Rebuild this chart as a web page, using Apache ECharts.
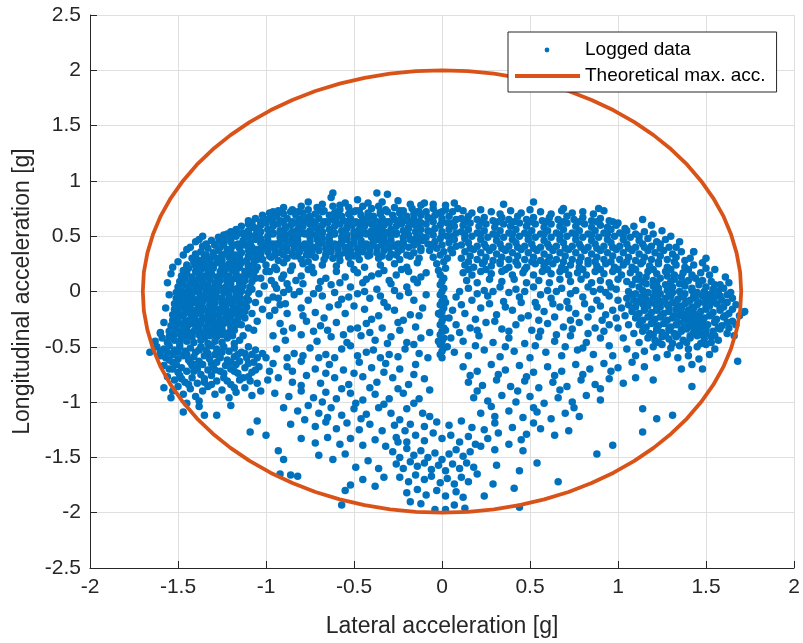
<!DOCTYPE html>
<html>
<head>
<meta charset="utf-8">
<script src="https://cdn.jsdelivr.net/npm/echarts@6/dist/echarts.min.js"></script>
<style>html,body{margin:0;padding:0;background:#fff}#c{width:803px;height:643px}</style>
</head>
<body>
<div id="c"></div>
<script>
// ---- data (g units) ----
const leftCluster = [
[-1.31,0.46],[-1.27,0.44],[-1.24,0.47],[-1.2,0.45],[-1.16,0.43],[-1.13,0.46],[-1.09,0.44],[-1.06,0.47],
[-1.36,0.41],[-1.33,0.39],[-1.29,0.42],[-1.26,0.4],[-1.22,0.38],[-1.19,0.41],[-1.15,0.39],[-1.12,0.42],[-1.08,0.4],[-1.05,0.38],
[-1.4,0.34],[-1.37,0.36],[-1.34,0.33],[-1.3,0.35],[-1.27,0.37],[-1.23,0.34],[-1.2,0.36],[-1.17,0.33],[-1.14,0.35],[-1.1,0.37],[-1.07,0.34],
[-1.42,0.3],[-1.38,0.28],[-1.35,0.31],[-1.32,0.29],[-1.28,0.3],[-1.25,0.28],[-1.21,0.31],[-1.18,0.29],[-1.15,0.3],[-1.11,0.28],[-1.08,0.31],[-1.05,0.29],
[-1.45,0.24],[-1.41,0.26],[-1.38,0.23],[-1.35,0.25],[-1.31,0.24],[-1.28,0.26],[-1.24,0.23],[-1.21,0.25],[-1.17,0.24],[-1.14,0.26],[-1.1,0.23],[-1.07,0.25],
[-1.47,0.19],[-1.44,0.21],[-1.4,0.18],[-1.37,0.2],[-1.33,0.19],[-1.3,0.21],[-1.26,0.18],[-1.23,0.2],[-1.19,0.19],[-1.16,0.21],[-1.12,0.18],[-1.09,0.2],[-1.06,0.19],
[-1.48,0.14],[-1.45,0.16],[-1.42,0.13],[-1.38,0.15],[-1.35,0.14],[-1.31,0.16],[-1.28,0.13],[-1.24,0.15],[-1.21,0.14],[-1.17,0.16],[-1.14,0.13],[-1.1,0.15],[-1.07,0.14],
[-1.49,0.09],[-1.46,0.11],[-1.43,0.08],[-1.39,0.1],[-1.36,0.09],[-1.32,0.11],[-1.29,0.08],[-1.26,0.1],[-1.22,0.09],[-1.19,0.11],[-1.15,0.08],[-1.12,0.1],[-1.08,0.09],
[-1.5,0.04],[-1.47,0.06],[-1.44,0.03],[-1.4,0.05],[-1.37,0.04],[-1.33,0.06],[-1.3,0.03],[-1.27,0.05],[-1.23,0.04],[-1.2,0.06],[-1.16,0.03],[-1.13,0.05],[-1.09,0.04],
[-1.51,-0.01],[-1.48,0.01],[-1.45,-0.02],[-1.41,0],[-1.38,-0.01],[-1.34,0.01],[-1.31,-0.02],[-1.28,0],[-1.24,-0.01],[-1.21,0.01],[-1.17,-0.02],[-1.14,0],[-1.1,-0.01],
[-1.51,-0.06],[-1.48,-0.04],[-1.45,-0.07],[-1.42,-0.05],[-1.38,-0.06],[-1.35,-0.04],[-1.32,-0.07],[-1.28,-0.05],[-1.25,-0.06],[-1.21,-0.04],[-1.18,-0.07],[-1.15,-0.05],[-1.11,-0.06],
[-1.52,-0.11],[-1.49,-0.09],[-1.46,-0.12],[-1.42,-0.1],[-1.39,-0.11],[-1.36,-0.09],[-1.32,-0.12],[-1.29,-0.1],[-1.25,-0.11],[-1.22,-0.09],[-1.19,-0.12],[-1.15,-0.1],[-1.12,-0.11],
[-1.52,-0.16],[-1.49,-0.14],[-1.46,-0.17],[-1.43,-0.15],[-1.39,-0.16],[-1.36,-0.14],[-1.33,-0.17],[-1.29,-0.15],[-1.26,-0.16],[-1.23,-0.14],[-1.19,-0.17],[-1.16,-0.15],[-1.13,-0.16],
[-1.53,-0.21],[-1.5,-0.19],[-1.47,-0.22],[-1.43,-0.2],[-1.4,-0.21],[-1.37,-0.19],[-1.33,-0.22],[-1.3,-0.2],[-1.27,-0.21],[-1.23,-0.19],[-1.2,-0.22],[-1.17,-0.2],[-1.14,-0.21],
[-1.53,-0.26],[-1.5,-0.24],[-1.46,-0.27],[-1.43,-0.25],[-1.4,-0.26],[-1.36,-0.24],[-1.33,-0.27],[-1.3,-0.25],[-1.26,-0.26],[-1.23,-0.24],[-1.2,-0.27],[-1.16,-0.25],
[-1.54,-0.31],[-1.5,-0.29],[-1.47,-0.32],[-1.44,-0.3],[-1.4,-0.31],[-1.37,-0.29],[-1.34,-0.32],[-1.3,-0.3],[-1.27,-0.31],[-1.24,-0.29],[-1.2,-0.32],[-1.17,-0.3],
[-1.55,-0.36],[-1.51,-0.34],[-1.48,-0.37],[-1.45,-0.35],[-1.41,-0.36],[-1.38,-0.34],[-1.35,-0.37],[-1.31,-0.35],[-1.28,-0.36],[-1.25,-0.34],[-1.21,-0.37],[-1.18,-0.35],
[-1.55,-0.41],[-1.52,-0.39],[-1.48,-0.42],[-1.45,-0.4],[-1.42,-0.41],[-1.38,-0.39],[-1.35,-0.42],[-1.32,-0.4],[-1.28,-0.41],[-1.25,-0.39],[-1.22,-0.42],
[-1.56,-0.46],[-1.52,-0.44],[-1.49,-0.47],[-1.45,-0.45],[-1.41,-0.46],[-1.37,-0.44],[-1.33,-0.47],[-1.29,-0.45],[-1.25,-0.46],
[-1.56,0.08],[-1.55,-0.03],[-1.57,-0.15],[-1.58,-0.28],[-1.54,0.16],[-1.5,0.27],[-1.47,0.33],[-1.43,0.4],[-1.4,0.45],[-1.36,0.5],[-1.6,-0.38],[-1.59,-0.42],[-1.53,0.22],[-1.45,0.38],[-1.38,0.47],
[-1.03,0.12],[-1.01,0.05],[-1.04,-0.02],[-0.99,-0.08],[-1.06,-0.1],[-1.02,-0.16],[-1.08,-0.2],[-1.05,-0.27],[-1.1,-0.33],[-1.13,-0.4],[-1.0,0.18],[-0.97,0.1],[-0.94,0.03],[-0.96,-0.05],[-0.92,-0.12],[-0.98,-0.22],[-0.9,0.15],[-0.88,0.07],[-1.07,-0.35],[-1.15,-0.44],[-1.18,-0.47],[-1.09,0.02],[-1.11,-0.14],[-1.12,-0.24],[-1.14,-0.3],
[-1.34,0.43],[-1.29,0.42],[-1.24,0.43],[-1.19,0.42],[-1.14,0.43],[-1.09,0.42],
[-1.4,0.32],[-1.35,0.33],[-1.3,0.32],[-1.25,0.33],[-1.2,0.32],[-1.15,0.33],[-1.1,0.32],[-1.05,0.33],
[-1.45,0.22],[-1.4,0.23],[-1.35,0.22],[-1.3,0.23],[-1.25,0.22],[-1.2,0.23],[-1.15,0.22],[-1.1,0.23],[-1.05,0.22],
[-1.47,0.12],[-1.42,0.11],[-1.37,0.12],[-1.32,0.13],[-1.27,0.12],[-1.22,0.11],[-1.17,0.12],[-1.12,0.13],[-1.06,0.12],
[-1.49,0.02],[-1.44,0.01],[-1.39,0.02],[-1.34,0.03],[-1.29,0.02],[-1.24,0.01],[-1.19,0.02],[-1.14,0.03],[-1.08,0.02],
[-1.5,-0.08],[-1.45,-0.09],[-1.4,-0.08],[-1.35,-0.07],[-1.3,-0.08],[-1.25,-0.09],[-1.2,-0.08],[-1.15,-0.07],[-1.1,-0.08],
[-1.51,-0.18],[-1.46,-0.19],[-1.41,-0.18],[-1.36,-0.17],[-1.31,-0.18],[-1.26,-0.19],[-1.21,-0.18],[-1.16,-0.17],[-1.12,-0.18],
[-1.52,-0.28],[-1.47,-0.29],[-1.42,-0.28],[-1.37,-0.27],[-1.32,-0.28],[-1.27,-0.29],[-1.22,-0.28],[-1.17,-0.27],
[-1.53,-0.38],[-1.48,-0.39],[-1.43,-0.38],[-1.38,-0.37],[-1.33,-0.38],[-1.28,-0.39],[-1.23,-0.38],[-1.19,-0.4]
];
const leftLobe = [
[-1.62,-0.5],[-1.58,-0.52],[-1.55,-0.49],[-1.52,-0.53],[-1.49,-0.5],[-1.46,-0.54],[-1.43,-0.51],[-1.4,-0.55],[-1.37,-0.5],[-1.34,-0.53],[-1.31,-0.49],[-1.28,-0.52],[-1.24,-0.5],[-1.21,-0.54],[-1.18,-0.51],[-1.14,-0.55],[-1.1,-0.5],[-1.06,-0.53],[-1.02,-0.56],
[-1.6,-0.58],[-1.57,-0.6],[-1.53,-0.57],[-1.5,-0.61],[-1.47,-0.58],[-1.44,-0.62],[-1.41,-0.59],[-1.38,-0.63],[-1.35,-0.58],[-1.32,-0.61],[-1.29,-0.57],[-1.26,-0.6],[-1.22,-0.62],[-1.18,-0.59],[-1.15,-0.63],[-1.11,-0.6],[-1.07,-0.64],[-1.0,-0.6],
[-1.58,-0.67],[-1.55,-0.7],[-1.51,-0.66],[-1.48,-0.69],[-1.45,-0.72],[-1.42,-0.67],[-1.39,-0.7],[-1.36,-0.66],[-1.33,-0.71],[-1.3,-0.68],[-1.26,-0.72],[-1.23,-0.67],[-1.2,-0.7],[-1.16,-0.74],[-1.12,-0.69],[-1.08,-0.73],[-1.04,-0.68],[-0.98,-0.72],
[-1.56,-0.77],[-1.52,-0.8],[-1.49,-0.76],[-1.46,-0.82],[-1.42,-0.78],[-1.39,-0.83],[-1.35,-0.79],[-1.31,-0.76],[-1.28,-0.81],[-1.24,-0.78],[-1.2,-0.84],[-1.15,-0.8],[-1.1,-0.77],[-1.05,-0.83],[-0.99,-0.8],
[-1.58,-0.87],[-1.53,-0.9],[-1.5,-0.86],[-1.47,-0.93],[-1.43,-0.88],[-1.4,-0.95],[-1.36,-0.9],[-1.33,-0.86],[-1.29,-0.93],[-1.25,-0.89],[-1.21,-0.96],[-1.17,-0.91],[-1.12,-0.87],[-1.08,-0.94],[-1.54,-0.96],[-1.38,-0.99],[-1.45,-1.01],
[-1.47,-1.09],[-1.35,-1.12],[-1.28,-1.12],[-1.38,-1.04],[-1.2,-1.03],[-1.66,-0.55],[-1.6,-0.37],[-1.63,-0.45],
[-1.56,-0.55],[-1.45,-0.57],[-1.33,-0.56],[-1.25,-0.55],[-1.12,-0.56],[-1.53,-0.64],[-1.4,-0.66],[-1.28,-0.64],[-1.17,-0.66],[-1.05,-0.6],[-1.5,-0.73],[-1.37,-0.75],[-1.24,-0.74],[-1.13,-0.78],[-1.44,-0.84],[-1.31,-0.84],[-1.18,-0.87],[-1.03,-0.9],
[-1.6,-0.54],[-1.5,-0.55],[-1.38,-0.53],[-1.27,-0.58],[-1.16,-0.57],[-1.08,-0.57],[-1.55,-0.62],[-1.43,-0.64],[-1.31,-0.65],[-1.2,-0.64],[-1.1,-0.65],[-1.53,-0.7],[-1.41,-0.72],[-1.29,-0.71],[-1.18,-0.72],[-1.06,-0.71],[-1.48,-0.79],[-1.35,-0.82],[-1.22,-0.81],[-1.09,-0.81]
];
const upperBandLeft = [
[-0.76,0.81],[-0.63,0.85],[-0.62,0.89],[-0.55,0.8],[-0.48,0.83],[-0.37,0.89],[-0.31,0.88],[-0.42,0.8],[-0.25,0.82],[-0.18,0.79],[-0.68,0.79],[-0.58,0.78],[-0.34,0.81],[-0.12,0.78],
[-0.96,0.72],[-0.9,0.76],[-0.85,0.74],[-0.8,0.77],[-0.76,0.74],[-0.71,0.76],[-0.67,0.73],[-0.62,0.77],[-0.58,0.74],[-0.53,0.76],[-0.49,0.73],[-0.45,0.77],[-0.4,0.75],[-0.36,0.77],[-0.32,0.74],[-0.27,0.76],[-0.22,0.73],[-0.17,0.75],[-0.13,0.72],
[-1.02,0.69],[-0.98,0.71],[-0.94,0.68],[-0.9,0.7],[-0.86,0.72],[-0.83,0.69],[-0.79,0.71],[-0.75,0.68],[-0.72,0.7],[-0.68,0.72],[-0.64,0.69],[-0.61,0.71],[-0.57,0.68],[-0.53,0.7],[-0.5,0.72],[-0.46,0.69],[-0.42,0.71],[-0.39,0.68],[-0.35,0.7],[-0.31,0.72],[-0.28,0.69],[-0.24,0.71],[-0.2,0.68],[-0.16,0.7],[-0.12,0.69],
[-1.1,0.64],[-1.06,0.66],[-1.03,0.63],[-0.99,0.65],[-0.96,0.67],[-0.92,0.64],[-0.88,0.66],[-0.85,0.63],[-0.81,0.65],[-0.78,0.67],[-0.74,0.64],[-0.7,0.66],[-0.67,0.63],[-0.63,0.65],[-0.6,0.67],[-0.56,0.64],[-0.52,0.66],[-0.49,0.63],[-0.45,0.65],[-0.42,0.67],[-0.38,0.64],[-0.34,0.66],[-0.31,0.63],[-0.27,0.65],[-0.23,0.67],[-0.2,0.64],[-0.16,0.66],[-0.13,0.63],
[-1.14,0.59],[-1.1,0.61],[-1.07,0.58],[-1.03,0.6],[-1.0,0.62],[-0.96,0.59],[-0.93,0.61],[-0.89,0.58],[-0.86,0.6],[-0.82,0.62],[-0.79,0.59],[-0.75,0.61],[-0.72,0.58],[-0.68,0.6],[-0.65,0.62],[-0.61,0.59],[-0.58,0.61],[-0.54,0.58],[-0.51,0.6],[-0.47,0.62],[-0.44,0.59],[-0.4,0.61],[-0.37,0.58],[-0.33,0.6],[-0.3,0.62],[-0.26,0.59],[-0.23,0.61],[-0.19,0.58],[-0.15,0.6],[-0.12,0.62],
[-1.2,0.54],[-1.17,0.56],[-1.13,0.53],[-1.1,0.55],[-1.06,0.57],[-1.03,0.54],[-0.99,0.56],[-0.96,0.53],[-0.92,0.55],[-0.89,0.57],[-0.85,0.54],[-0.82,0.56],[-0.78,0.53],[-0.75,0.55],[-0.71,0.57],[-0.68,0.54],[-0.64,0.56],[-0.61,0.53],[-0.57,0.55],[-0.54,0.57],[-0.5,0.54],[-0.47,0.56],[-0.43,0.53],[-0.4,0.55],[-0.36,0.57],[-0.33,0.54],[-0.29,0.56],[-0.26,0.53],[-0.22,0.55],[-0.19,0.57],[-0.15,0.54],[-0.12,0.56],
[-1.27,0.49],[-1.24,0.51],[-1.2,0.48],[-1.17,0.5],[-1.13,0.52],[-1.1,0.49],[-1.06,0.51],[-1.03,0.48],[-0.99,0.5],[-0.96,0.52],[-0.92,0.49],[-0.89,0.51],[-0.85,0.48],[-0.82,0.5],[-0.78,0.52],[-0.75,0.49],[-0.71,0.51],[-0.68,0.48],[-0.64,0.5],[-0.61,0.52],[-0.57,0.49],[-0.54,0.51],[-0.5,0.48],[-0.47,0.5],[-0.43,0.52],[-0.4,0.49],[-0.36,0.51],[-0.33,0.48],[-0.29,0.5],[-0.26,0.52],[-0.22,0.49],[-0.19,0.51],[-0.15,0.48],[-0.12,0.5],
[-1.03,0.44],[-0.99,0.46],[-0.96,0.43],[-0.92,0.45],[-0.89,0.47],[-0.85,0.44],[-0.82,0.46],[-0.78,0.43],[-0.75,0.45],[-0.71,0.47],[-0.68,0.44],[-0.64,0.46],[-0.61,0.43],[-0.57,0.45],[-0.54,0.47],[-0.5,0.44],[-0.46,0.46],[-0.43,0.43],[-0.39,0.45],[-0.36,0.47],[-0.32,0.44],[-0.29,0.46],[-0.25,0.43],[-0.22,0.45],[-0.18,0.47],[-0.14,0.44],[-0.11,0.46],
[-1.02,0.39],[-0.98,0.41],[-0.95,0.38],[-0.91,0.4],[-0.88,0.42],[-0.84,0.39],[-0.8,0.41],[-0.77,0.38],[-0.73,0.4],[-0.7,0.42],[-0.66,0.39],[-0.62,0.41],[-0.59,0.38],[-0.55,0.4],[-0.52,0.42],[-0.48,0.39],[-0.44,0.41],[-0.41,0.38],[-0.37,0.4],[-0.34,0.42],[-0.3,0.39],[-0.27,0.41],[-0.23,0.38],[-0.19,0.4],[-0.16,0.42],[-0.12,0.39],
[-1.03,0.34],[-0.99,0.36],[-0.95,0.33],[-0.92,0.35],[-0.88,0.37],[-0.85,0.34],[-0.81,0.36],[-0.77,0.33],[-0.74,0.35],[-0.7,0.37],[-0.66,0.34],[-0.63,0.36],[-0.59,0.33],[-0.55,0.35],[-0.52,0.37],[-0.48,0.34],[-0.45,0.36],[-0.41,0.33],[-0.37,0.35],[-0.33,0.37],[-0.29,0.34],[-0.25,0.36],[-0.2,0.33],[-0.16,0.35],[-0.12,0.37],
[-1.02,0.29],[-0.97,0.31],[-0.93,0.28],[-0.88,0.3],[-0.84,0.32],[-0.8,0.29],[-0.76,0.27],[-0.72,0.31],[-0.67,0.29],[-0.62,0.3],[-0.58,0.28],[-0.53,0.31],[-0.47,0.29],[-0.42,0.32],[-0.36,0.3],[-0.3,0.31],[-0.24,0.29],[-0.18,0.32],[-0.13,0.3],
[-1.0,0.24],[-0.95,0.22],[-0.9,0.26],[-0.85,0.23],[-0.79,0.25],[-0.74,0.22],[-0.68,0.24],[-0.6,0.23],[-0.52,0.25],[-0.44,0.22],[-0.35,0.24],[-0.27,0.25],[-0.2,0.22],[-0.14,0.26],
[-0.93,0.73],[-0.82,0.72],[-0.7,0.73],[-0.59,0.72],[-0.47,0.73],[-0.35,0.72],[-0.24,0.73],[-0.14,0.72],
[-1.08,0.62],[-1.02,0.63],[-0.96,0.62],[-0.9,0.63],[-0.84,0.62],[-0.78,0.63],[-0.72,0.62],[-0.66,0.63],[-0.6,0.62],[-0.54,0.63],[-0.48,0.62],[-0.42,0.63],[-0.36,0.62],[-0.3,0.63],[-0.24,0.62],[-0.18,0.63],[-0.12,0.62],
[-1.22,0.52],[-1.16,0.53],[-1.1,0.52],[-1.04,0.53],[-0.98,0.52],[-0.92,0.53],[-0.86,0.52],[-0.8,0.53],[-0.74,0.52],[-0.68,0.53],[-0.62,0.52],[-0.56,0.53],[-0.5,0.52],[-0.44,0.53],[-0.38,0.52],[-0.32,0.53],[-0.26,0.52],[-0.2,0.53],[-0.14,0.52],
[-1.0,0.42],[-0.94,0.43],[-0.88,0.42],[-0.82,0.43],[-0.76,0.42],[-0.7,0.43],[-0.64,0.42],[-0.58,0.43],[-0.52,0.42],[-0.46,0.43],[-0.4,0.42],[-0.34,0.43],[-0.28,0.42],[-0.22,0.43],[-0.16,0.42],
[-0.98,0.32],[-0.9,0.33],[-0.82,0.32],[-0.74,0.33],[-0.66,0.32],[-0.58,0.33],[-0.5,0.32],[-0.42,0.33],[-0.34,0.32],[-0.26,0.33],[-0.18,0.32]
];
const innerLeft = [
[-0.98,0.18],[-0.91,0.12],[-0.86,0.19],[-0.8,0.14],[-0.73,0.17],[-0.66,0.12],[-0.6,0.18],[-0.55,0.13],[-0.48,0.17],[-0.4,0.14],[-0.33,0.19],[-0.26,0.15],[-0.19,0.18],[-0.12,0.13],
[-0.95,0.06],[-0.87,0.02],[-0.79,0.07],[-0.7,0.03],[-0.63,0.06],[-0.52,0.04],[-0.45,0.08],[-0.37,0.02],[-0.29,0.07],[-0.2,0.04],[-0.14,0.08],
[-0.93,-0.06],[-0.84,-0.03],[-0.76,-0.08],[-0.68,-0.04],[-0.57,-0.07],[-0.48,-0.02],[-0.41,-0.06],[-0.33,-0.1],[-0.24,-0.04],[-0.16,-0.08],
[-0.95,-0.17],[-0.88,-0.2],[-0.8,-0.15],[-0.72,-0.19],[-0.64,-0.14],[-0.55,-0.2],[-0.44,-0.16],[-0.36,-0.22],[-0.27,-0.17],[-0.18,-0.21],[-0.11,-0.15],
[-0.92,-0.29],[-0.85,-0.33],[-0.77,-0.27],[-0.69,-0.31],[-0.6,-0.28],[-0.52,-0.34],[-0.43,-0.29],[-0.34,-0.33],[-0.25,-0.28],[-0.15,-0.32],
[-0.96,-0.4],[-0.89,-0.44],[-0.8,-0.39],[-0.71,-0.45],[-0.63,-0.41],[-0.54,-0.46],[-0.46,-0.4],[-0.38,-0.44],[-0.29,-0.41],[-0.2,-0.46],[-0.12,-0.42],
[-0.94,-0.52],[-0.84,-0.56],[-0.75,-0.51],[-0.66,-0.57],[-0.57,-0.52],[-0.48,-0.58],[-0.39,-0.53],[-0.3,-0.57],[-0.21,-0.52],[-0.13,-0.56],
[-0.94,0.2],[-0.83,0.1],[-0.76,0.2],[-0.69,0.09],[-0.58,0.08],[-0.5,0.2],[-0.43,0.11],[-0.36,0.16],[-0.3,0.1],[-0.23,0.2],[-0.16,0.11],[-0.09,0.17],
[-0.9,-0.01],[-0.81,0.0],[-0.73,-0.02],[-0.61,-0.01],[-0.53,-0.05],[-0.44,0.0],[-0.35,-0.04],[-0.27,0.01],[-0.19,-0.01],[-0.09,-0.03],
[-0.89,-0.11],[-0.79,-0.22],[-0.67,-0.24],[-0.59,-0.12],[-0.5,-0.13],[-0.4,-0.25],[-0.31,-0.14],[-0.22,-0.26],[-0.13,-0.22],
[-0.9,-0.36],[-0.73,-0.36],[-0.65,-0.35],[-0.56,-0.39],[-0.48,-0.33],[-0.41,-0.37],[-0.31,-0.47],[-0.24,-0.35],[-0.07,-0.37],
[-0.88,-0.6],[-0.79,-0.58],[-0.7,-0.6],[-0.61,-0.6],[-0.52,-0.49],[-0.43,-0.55],[-0.35,-0.6],[-0.25,-0.59],[-0.16,-0.48],[-0.08,-0.6]
];
const centreSpine = [
[-0.09,0.72],[-0.05,0.75],[-0.02,0.71],[0.02,0.74],[0.06,0.72],[0.09,0.75],[-0.08,0.67],[-0.04,0.69],[0.0,0.66],[0.04,0.68],[0.08,0.65],[-0.09,0.61],[-0.05,0.63],[-0.01,0.6],[0.03,0.62],[0.07,0.59],[-0.08,0.55],[-0.04,0.57],[0.0,0.54],[0.04,0.56],[0.08,0.53],[-0.09,0.49],[-0.05,0.51],[-0.01,0.48],[0.03,0.5],[0.07,0.47],[-0.08,0.43],[-0.04,0.45],[0.0,0.42],[0.04,0.44],[0.08,0.41],[-0.07,0.37],[-0.03,0.39],[0.01,0.36],[0.05,0.38],[-0.05,0.31],[-0.01,0.33],[0.03,0.3],[-0.03,0.25],[0.01,0.27],[0.02,0.21],[-0.02,0.19],
[-0.01,0.15],[0.01,0.12],[0.0,0.09],[-0.01,0.06],[0.01,0.03],[0.0,0.0],[-0.01,-0.03],[0.01,-0.06],[0.0,-0.09],[-0.01,-0.12],[0.01,-0.15],[0.0,-0.18],[-0.01,-0.21],[0.01,-0.24],[0.0,-0.27],[-0.01,-0.3],[0.01,-0.33],[0.0,-0.36],[-0.01,-0.39],[0.01,-0.42],[0.0,-0.45],[-0.01,-0.48],[0.01,-0.51],[0.0,-0.54],[-0.01,-0.57],[0.0,-0.6],[0.02,-0.1],[-0.02,-0.2],[0.02,-0.35],[-0.02,-0.45],
[-0.05,0.79],[0.02,0.78],[0.07,0.8],[-0.1,0.8],
[-0.06,0.66],[0.06,0.62],[-0.06,0.54],[0.06,0.5],[-0.06,0.42],[0.06,0.35],[0.0,0.72],[0.0,0.63],[0.0,0.51]
];
const upperBandRight = [
[0.12,0.73],[0.17,0.71],[0.22,0.74],[0.28,0.72],[0.33,0.7],[0.39,0.73],[0.45,0.71],[0.5,0.74],[0.56,0.72],[0.62,0.7],[0.68,0.73],[0.74,0.71],[0.8,0.72],[0.86,0.7],[0.92,0.73],[0.35,0.79],[0.52,0.81],[0.69,0.75],[0.89,0.75],
[0.11,0.66],[0.15,0.68],[0.2,0.65],[0.24,0.67],[0.29,0.64],[0.34,0.67],[0.38,0.65],[0.43,0.68],[0.48,0.65],[0.52,0.67],[0.57,0.64],[0.61,0.67],[0.66,0.65],[0.71,0.68],[0.75,0.65],[0.8,0.67],[0.85,0.64],[0.9,0.66],[0.95,0.64],[1.0,0.62],
[0.12,0.6],[0.16,0.62],[0.21,0.59],[0.25,0.61],[0.3,0.58],[0.35,0.61],[0.39,0.59],[0.44,0.62],[0.48,0.59],[0.53,0.61],[0.58,0.58],[0.62,0.61],[0.67,0.59],[0.71,0.62],[0.76,0.59],[0.81,0.61],[0.85,0.58],[0.9,0.6],[0.94,0.58],[0.99,0.6],[1.04,0.57],[1.09,0.59],
[0.11,0.54],[0.15,0.56],[0.2,0.53],[0.24,0.55],[0.29,0.52],[0.33,0.55],[0.38,0.53],[0.42,0.56],[0.47,0.53],[0.51,0.55],[0.56,0.52],[0.6,0.55],[0.65,0.53],[0.69,0.56],[0.74,0.53],[0.78,0.55],[0.83,0.52],[0.87,0.55],[0.92,0.53],[0.96,0.56],[1.01,0.53],[1.05,0.55],[1.1,0.52],[1.15,0.54],
[0.13,0.48],[0.17,0.5],[0.22,0.47],[0.26,0.49],[0.31,0.46],[0.35,0.49],[0.4,0.47],[0.44,0.5],[0.49,0.47],[0.53,0.49],[0.58,0.46],[0.62,0.49],[0.67,0.47],[0.71,0.5],[0.76,0.47],[0.8,0.49],[0.85,0.46],[0.89,0.49],[0.94,0.47],[0.98,0.5],[1.03,0.47],[1.07,0.49],[1.12,0.46],[1.17,0.48],[1.22,0.45],
[0.11,0.42],[0.15,0.44],[0.2,0.41],[0.24,0.43],[0.29,0.4],[0.33,0.43],[0.38,0.41],[0.42,0.44],[0.47,0.41],[0.51,0.43],[0.56,0.4],[0.6,0.43],[0.65,0.41],[0.69,0.44],[0.74,0.41],[0.78,0.43],[0.83,0.4],[0.87,0.43],[0.92,0.41],[0.96,0.44],[1.01,0.41],[1.05,0.43],[1.1,0.4],[1.14,0.43],[1.19,0.41],[1.24,0.43],[1.29,0.4],
[0.13,0.36],[0.18,0.38],[0.22,0.35],[0.27,0.37],[0.31,0.34],[0.36,0.37],[0.4,0.35],[0.45,0.38],[0.49,0.35],[0.54,0.37],[0.58,0.34],[0.63,0.37],[0.67,0.35],[0.72,0.38],[0.76,0.35],[0.81,0.37],[0.85,0.34],[0.9,0.37],[0.94,0.35],[0.99,0.38],[1.03,0.35],[1.08,0.37],[1.12,0.34],[1.17,0.37],[1.21,0.35],[1.26,0.37],[1.31,0.34],[1.36,0.36],[1.43,0.36],
[0.11,0.3],[0.16,0.32],[0.2,0.29],[0.25,0.31],[0.29,0.28],[0.34,0.31],[0.38,0.29],[0.43,0.32],[0.47,0.29],[0.52,0.31],[0.56,0.28],[0.61,0.31],[0.65,0.29],[0.7,0.32],[0.74,0.29],[0.79,0.31],[0.83,0.28],[0.88,0.31],[0.92,0.29],[0.97,0.32],[1.01,0.29],[1.06,0.31],[1.1,0.28],[1.15,0.31],[1.19,0.29],[1.24,0.32],[1.28,0.29],[1.33,0.31],[1.38,0.28],
[0.13,0.24],[0.18,0.22],[0.23,0.25],[0.28,0.23],[0.33,0.25],[0.38,0.22],[0.43,0.24],[0.48,0.22],[0.53,0.25],[0.58,0.23],[0.63,0.25],[0.68,0.22],[0.73,0.24],[0.78,0.22],[0.83,0.25],[0.88,0.23],[0.93,0.25],[0.98,0.22],[1.03,0.24],[1.08,0.22],[1.13,0.25],[1.18,0.23],[1.23,0.25],[1.28,0.22],[1.33,0.24],[1.38,0.22],[1.43,0.24],
[0.12,0.17],[0.17,0.15],[0.22,0.18],[0.28,0.16],[0.34,0.18],[0.4,0.15],[0.46,0.17],[0.52,0.15],[0.57,0.18],[0.62,0.16],[0.67,0.18],[0.72,0.15],[0.77,0.17],[0.82,0.15],[0.87,0.18],[0.92,0.16],[0.97,0.18],[1.02,0.15],[1.07,0.17],[1.12,0.15],[1.17,0.18],[1.22,0.16],[1.27,0.18],[1.32,0.15],[1.37,0.17],[1.42,0.15],[1.47,0.17],[1.52,0.15],
[0.14,0.1],[0.2,0.08],[0.27,0.11],[0.34,0.09],[0.41,0.11],[0.48,0.08],[0.55,0.1],[0.61,0.08],[0.67,0.11],[0.73,0.09],[0.79,0.11],[0.85,0.08],[0.9,0.1],[0.95,0.08],[1.0,0.11],[1.05,0.09],[1.1,0.11],
[0.15,0.03],[0.24,0.01],[0.33,0.04],[0.42,0.02],[0.52,0.04],[0.6,0.01],[0.68,0.03],[0.76,0.01],[0.83,0.04],[0.9,0.02],[0.96,0.04],
[1.14,0.65],[1.19,0.6],[1.25,0.55],[1.3,0.5],[1.35,0.45],[1.27,0.47],[1.2,0.52],
[0.14,0.63],[0.23,0.63],[0.32,0.63],[0.41,0.63],[0.5,0.63],[0.59,0.63],[0.69,0.63],[0.78,0.63],[0.88,0.63],[0.97,0.63],
[0.13,0.51],[0.22,0.52],[0.31,0.51],[0.4,0.52],[0.49,0.51],[0.58,0.52],[0.67,0.51],[0.76,0.52],[0.85,0.51],[0.94,0.52],[1.03,0.51],[1.12,0.5],
[0.16,0.39],[0.25,0.4],[0.34,0.39],[0.43,0.4],[0.52,0.39],[0.61,0.4],[0.7,0.39],[0.79,0.4],[0.88,0.39],[0.97,0.4],[1.06,0.39],[1.15,0.4],[1.24,0.39],[1.33,0.4],
[0.15,0.27],[0.24,0.27],[0.33,0.27],[0.42,0.27],[0.51,0.27],[0.6,0.27],[0.69,0.27],[0.78,0.27],[0.87,0.27],[0.96,0.27],[1.05,0.27],[1.14,0.27],[1.23,0.27],[1.32,0.27],[1.41,0.3],
[0.15,0.2],[0.25,0.2],[0.36,0.2],[0.47,0.2],[0.6,0.2],[0.7,0.2],[0.8,0.2],[0.9,0.2],[1.0,0.2],[1.1,0.2],[1.2,0.2],[1.3,0.2],[1.4,0.2],[1.5,0.21]
];
const innerRight = [
[0.08,-0.05],[0.17,-0.08],[0.26,-0.04],[0.35,-0.09],[0.44,-0.05],[0.53,-0.1],[0.62,-0.06],[0.71,-0.09],[0.8,-0.05],[0.88,-0.08],[0.95,-0.04],
[0.06,-0.17],[0.13,-0.2],[0.22,-0.15],[0.31,-0.21],[0.4,-0.17],[0.49,-0.22],[0.58,-0.18],[0.67,-0.14],[0.76,-0.2],[0.85,-0.16],[0.93,-0.21],
[0.08,-0.3],[0.16,-0.33],[0.25,-0.28],[0.34,-0.34],[0.42,-0.3],[0.51,-0.35],[0.6,-0.29],[0.69,-0.32],[0.78,-0.28],[0.87,-0.33],[0.95,-0.3],
[0.05,-0.42],[0.12,-0.45],[0.21,-0.4],[0.29,-0.46],[0.38,-0.42],[0.47,-0.47],[0.55,-0.41],[0.64,-0.45],[0.73,-0.4],[0.82,-0.46],[0.9,-0.42],
[0.07,-0.55],[0.15,-0.58],[0.24,-0.53],[0.33,-0.59],[0.41,-0.54],[0.5,-0.6],[0.59,-0.55],[0.68,-0.58],[0.77,-0.53],[0.86,-0.57],
[0.1,0.0],[0.2,-0.02],[0.29,0.0],[0.38,-0.01],[0.47,0.0],[0.56,-0.03],[0.65,0.0],[0.73,-0.02],[0.86,0.0],[0.93,-0.01],[0.99,0.02],
[0.11,-0.12],[0.27,-0.11],[0.36,-0.14],[0.45,-0.1],[0.54,-0.14],[0.63,-0.11],[0.72,-0.15],[0.81,-0.11],[0.9,-0.13],[0.97,-0.17],
[0.04,-0.24],[0.19,-0.25],[0.3,-0.27],[0.45,-0.24],[0.55,-0.26],[0.64,-0.23],[0.73,-0.26],[0.83,-0.23],[0.91,-0.26],[0.99,-0.24],
[0.1,-0.37],[0.2,-0.35],[0.38,-0.36],[0.56,-0.36],[0.65,-0.39],[0.74,-0.34],[0.83,-0.38],[0.92,-0.36],[1.0,-0.33],[1.03,-0.42],
[0.03,-0.5],[0.19,-0.49],[0.36,-0.5],[0.53,-0.49],[0.7,-0.5],[0.8,-0.51],[0.95,-0.49],[1.05,-0.52],[0.97,-0.58],[1.1,-0.58]
];
const rightCluster = [
[1.12,0.11],[1.16,0.13],[1.2,0.1],[1.24,0.12],[1.28,0.14],[1.32,0.11],[1.36,0.13],[1.4,0.1],[1.44,0.12],[1.48,0.1],[1.53,0.09],[1.58,0.06],
[1.08,0.06],[1.12,0.04],[1.16,0.07],[1.2,0.05],[1.23,0.03],[1.27,0.06],[1.31,0.04],[1.35,0.07],[1.38,0.05],[1.42,0.03],[1.46,0.06],[1.5,0.04],[1.54,0.02],[1.6,0.03],[1.64,-0.01],
[1.06,0.0],[1.1,-0.02],[1.14,0.01],[1.17,-0.01],[1.21,0.0],[1.24,-0.02],[1.28,0.01],[1.31,-0.01],[1.35,0.0],[1.38,-0.02],[1.42,0.01],[1.45,-0.01],[1.49,0.0],[1.53,-0.02],[1.57,0.0],[1.62,-0.03],
[1.05,-0.06],[1.09,-0.08],[1.13,-0.05],[1.16,-0.07],[1.2,-0.05],[1.23,-0.08],[1.27,-0.06],[1.3,-0.04],[1.34,-0.07],[1.37,-0.05],[1.41,-0.08],[1.44,-0.06],[1.48,-0.04],[1.51,-0.07],[1.55,-0.05],[1.59,-0.08],[1.65,-0.06],
[1.06,-0.12],[1.1,-0.14],[1.14,-0.11],[1.17,-0.13],[1.21,-0.11],[1.24,-0.14],[1.28,-0.12],[1.31,-0.1],[1.35,-0.13],[1.38,-0.11],[1.42,-0.14],[1.45,-0.12],[1.49,-0.1],[1.52,-0.13],[1.56,-0.11],[1.6,-0.14],[1.67,-0.12],
[1.08,-0.18],[1.12,-0.2],[1.15,-0.17],[1.19,-0.19],[1.22,-0.17],[1.26,-0.2],[1.29,-0.18],[1.33,-0.16],[1.36,-0.19],[1.4,-0.17],[1.43,-0.2],[1.47,-0.18],[1.5,-0.16],[1.54,-0.19],[1.58,-0.17],[1.63,-0.2],[1.71,-0.19],[1.69,-0.22],
[1.1,-0.24],[1.14,-0.26],[1.17,-0.23],[1.21,-0.25],[1.24,-0.23],[1.28,-0.26],[1.31,-0.24],[1.35,-0.22],[1.38,-0.25],[1.42,-0.23],[1.45,-0.26],[1.49,-0.24],[1.52,-0.22],[1.56,-0.25],[1.6,-0.23],[1.65,-0.27],
[1.12,-0.3],[1.16,-0.32],[1.19,-0.29],[1.23,-0.31],[1.26,-0.29],[1.3,-0.32],[1.33,-0.3],[1.37,-0.28],[1.4,-0.31],[1.44,-0.29],[1.47,-0.32],[1.51,-0.3],[1.55,-0.28],[1.59,-0.31],[1.63,-0.33],
[1.14,-0.36],[1.18,-0.38],[1.22,-0.35],[1.25,-0.37],[1.29,-0.35],[1.32,-0.38],[1.36,-0.36],[1.39,-0.34],[1.43,-0.37],[1.46,-0.35],[1.5,-0.38],[1.54,-0.36],[1.58,-0.34],[1.62,-0.38],
[1.17,-0.42],[1.21,-0.44],[1.25,-0.41],[1.29,-0.43],[1.33,-0.41],[1.37,-0.44],[1.41,-0.42],[1.45,-0.4],[1.49,-0.43],[1.53,-0.41],[1.57,-0.44],
[1.2,-0.5],[1.25,-0.48],[1.3,-0.51],[1.35,-0.49],[1.4,-0.52],[1.45,-0.5],[1.5,-0.48],[1.55,-0.52],
[1.28,-0.57],[1.34,-0.6],[1.4,-0.58],[1.46,-0.61],[1.52,-0.57],
[1.66,-0.4],[1.68,-0.63],[1.72,-0.18],[1.67,-0.3],[1.63,0.08],[1.61,0.13],[1.55,0.2],[1.48,0.26],[1.5,0.3],[1.43,0.36],[1.0,-0.08],[1.02,-0.15],[1.04,-0.22],[1.06,-0.3],[1.09,-0.38],[1.12,-0.46],[1.15,-0.54],[1.22,-0.6],[1.42,-0.66],[1.36,-0.7],[1.48,-0.7],
[1.14,0.09],[1.22,0.08],[1.3,0.09],[1.38,0.08],[1.46,0.09],[1.55,0.06],
[1.08,-0.03],[1.15,-0.04],[1.22,-0.03],[1.29,-0.04],[1.36,-0.03],[1.43,-0.04],[1.5,-0.03],[1.58,-0.04],
[1.11,-0.09],[1.18,-0.1],[1.25,-0.09],[1.32,-0.1],[1.39,-0.09],[1.46,-0.1],[1.53,-0.09],[1.62,-0.1],
[1.08,-0.15],[1.15,-0.15],[1.22,-0.15],[1.29,-0.15],[1.36,-0.15],[1.43,-0.15],[1.5,-0.15],[1.58,-0.15],[1.65,-0.16],
[1.11,-0.21],[1.18,-0.22],[1.25,-0.21],[1.32,-0.22],[1.39,-0.21],[1.46,-0.22],[1.53,-0.21],[1.61,-0.22],
[1.13,-0.27],[1.2,-0.28],[1.27,-0.27],[1.34,-0.28],[1.41,-0.27],[1.48,-0.28],[1.55,-0.27],[1.62,-0.28],
[1.15,-0.33],[1.22,-0.34],[1.29,-0.33],[1.36,-0.34],[1.43,-0.33],[1.5,-0.34],[1.57,-0.33],
[1.2,-0.39],[1.27,-0.4],[1.34,-0.39],[1.41,-0.4],[1.48,-0.39],[1.55,-0.4],
[1.23,-0.46],[1.31,-0.47],[1.39,-0.46],[1.47,-0.47],[1.53,-0.46]
];
const lowerLeft = [
[-0.96,-0.65],[-0.88,-0.68],[-0.8,-0.63],[-0.72,-0.7],[-0.64,-0.66],[-0.56,-0.71],[-0.47,-0.64],[-0.4,-0.69],[-0.32,-0.65],[-0.24,-0.7],[-0.15,-0.66],
[-0.93,-0.78],[-0.85,-0.82],[-0.77,-0.76],[-0.69,-0.83],[-0.61,-0.78],[-0.53,-0.84],[-0.45,-0.77],[-0.37,-0.82],[-0.28,-0.78],[-0.19,-0.84],[-0.1,-0.79],
[-0.95,-0.92],[-0.87,-0.95],[-0.8,-0.9],[-0.73,-0.96],[-0.66,-0.91],[-0.6,-0.97],[-0.52,-0.92],[-0.45,-0.98],[-0.38,-0.93],[-0.3,-0.97],[-0.22,-0.92],[-0.13,-0.97],
[-0.9,-1.05],[-0.82,-1.08],[-0.76,-1.03],[-0.7,-1.1],[-0.63,-1.05],[-0.57,-1.12],[-0.5,-1.06],[-0.43,-1.11],[-0.36,-1.05],[-0.29,-1.1],[-0.2,-1.06],[-0.11,-1.1],
[-1.09,-1.27],[-1.0,-1.3],[-1.05,-1.17],[-0.86,-1.2],[-0.78,-1.16],[-0.72,-1.22],[-0.66,-1.18],[-0.6,-1.24],[-0.54,-1.19],[-0.47,-1.25],[-0.41,-1.2],[-0.34,-1.26],[-0.27,-1.21],[-0.21,-1.26],
[-0.93,-1.44],[-0.9,-1.52],[-0.8,-1.33],[-0.72,-1.37],[-0.65,-1.32],[-0.58,-1.38],[-0.52,-1.33],[-0.45,-1.39],[-0.38,-1.34],[-0.32,-1.4],[-0.25,-1.36],
[-0.92,-1.65],[-0.82,-1.67],[-0.86,-1.66],[-0.7,-1.48],[-0.62,-1.52],[-0.55,-1.47],[-0.49,-1.59],[-0.42,-1.53],[-0.36,-1.6],
[-0.57,-1.93],[-0.55,-1.8],[-0.52,-1.75],[-0.45,-1.7],[-0.38,-1.76],[-0.33,-1.68],
[-0.85,-0.72],[-0.66,-0.74],[-0.5,-0.74],[-0.33,-0.73],[-0.16,-0.75],[-0.8,-0.85],[-0.57,-0.88],[-0.41,-0.87],[-0.25,-0.88],[-0.07,-0.89],[-0.68,-1.0],[-0.49,-1.01],[-0.33,-1.02],[-0.16,-1.01],[-0.65,-1.14],[-0.46,-1.15],[-0.24,-1.16],[-0.07,-1.13]
];
const lowerCentre = [
[-0.28,-1.45],[-0.24,-1.5],[-0.2,-1.42],[-0.16,-1.48],[-0.12,-1.44],[-0.08,-1.5],[-0.04,-1.46],[0.0,-1.52],[0.04,-1.47],[0.08,-1.43],[0.12,-1.49],[0.16,-1.45],
[-0.26,-1.56],[-0.22,-1.6],[-0.18,-1.54],[-0.14,-1.58],[-0.1,-1.55],[-0.06,-1.61],[-0.02,-1.57],[0.02,-1.62],[0.06,-1.56],[0.1,-1.6],[0.14,-1.55],[0.18,-1.59],
[-0.24,-1.68],[-0.19,-1.72],[-0.15,-1.66],[-0.1,-1.7],[-0.06,-1.67],[-0.01,-1.73],[0.03,-1.69],[0.07,-1.74],[0.11,-1.68],[0.15,-1.72],
[-0.2,-1.82],[-0.14,-1.79],[-0.09,-1.84],[-0.03,-1.8],[0.02,-1.85],[0.08,-1.81],[0.12,-1.86],
[-0.12,-1.92],[-0.04,-1.97],[0.02,-1.97],[0.07,-1.93],[0.13,-1.96],[-0.18,-1.9],
[-0.26,-1.32],[-0.2,-1.36],[-0.15,-1.3],[-0.1,-1.35],[-0.05,-1.28],[0.0,-1.33],[0.05,-1.3],[0.1,-1.36],[0.15,-1.31],[0.19,-1.38],
[-0.18,-1.2],[-0.1,-1.22],[-0.03,-1.18],[0.04,-1.21],[0.11,-1.17],[0.17,-1.23]
];
const lowerRight = [
[0.12,-0.68],[0.2,-0.72],[0.28,-0.66],[0.36,-0.71],[0.44,-0.67],[0.52,-0.73],[0.6,-0.68],[0.68,-0.72],[0.76,-0.66],[0.84,-0.7],[0.92,-0.65],[1.0,-0.69],[1.08,-0.64],[1.15,-0.68],
[0.15,-0.82],[0.23,-0.85],[0.31,-0.8],[0.39,-0.86],[0.47,-0.81],[0.55,-0.87],[0.63,-0.82],[0.71,-0.86],[0.79,-0.8],[0.87,-0.84],[0.95,-0.79],[1.03,-0.83],[1.1,-0.78],[1.2,-0.8],[1.42,-0.86],
[0.18,-0.96],[0.26,-0.99],[0.34,-0.94],[0.42,-1.0],[0.5,-0.95],[0.58,-1.01],[0.66,-0.96],[0.74,-1.0],[0.82,-0.94],[0.9,-0.98],[1.14,-1.06],
[0.22,-1.1],[0.3,-1.13],[0.38,-1.08],[0.46,-1.14],[0.54,-1.09],[0.62,-1.15],[0.7,-1.1],[0.78,-1.13],[1.22,-1.15],[1.31,-1.12],
[0.24,-1.25],[0.32,-1.28],[0.4,-1.23],[0.48,-1.29],[0.56,-1.24],[0.64,-1.3],[0.72,-1.26],
[0.22,-1.4],[0.3,-1.43],[0.38,-1.38],[0.46,-1.44],[0.97,-1.39],[0.88,-1.47],[1.14,-1.27],
[0.31,-1.57],[0.29,-1.74],[0.41,-1.78],[0.44,-1.62],[0.54,-1.55],[0.66,-1.72],[0.44,-1.95],[0.2,-1.65],[0.24,-1.85],
[0.16,-0.76],[0.32,-0.75],[0.48,-0.77],[0.64,-0.76],[0.8,-0.75],[0.96,-0.72],[0.2,-0.9],[0.43,-0.9],[0.67,-0.89],[0.9,-0.88],[0.28,-1.04],[0.52,-1.05],[0.75,-1.05],[0.3,-1.19],[0.52,-1.19],[0.26,-1.33],[0.45,-1.34]
];
// theoretical limit (friction ellipse), lateral/longitudinal pairs every 5 degrees
const limitCurve = [
[1.7,0],[1.694,0.174],[1.674,0.347],[1.642,0.518],[1.598,0.684],[1.541,0.845],[1.472,1.0],[1.393,1.147],[1.302,1.286],[1.202,1.414],[1.093,1.532],[0.975,1.638],[0.85,1.732],[0.719,1.813],[0.581,1.879],[0.44,1.932],[0.295,1.97],[0.148,1.992],[0,2],
[-0.148,1.992],[-0.295,1.97],[-0.44,1.932],[-0.581,1.879],[-0.719,1.813],[-0.85,1.732],[-0.975,1.638],[-1.093,1.532],[-1.202,1.414],[-1.302,1.286],[-1.393,1.147],[-1.472,1.0],[-1.541,0.845],[-1.598,0.684],[-1.642,0.518],[-1.674,0.347],[-1.694,0.174],[-1.7,0],
[-1.694,-0.174],[-1.674,-0.347],[-1.642,-0.518],[-1.598,-0.684],[-1.541,-0.845],[-1.472,-1.0],[-1.393,-1.147],[-1.302,-1.286],[-1.202,-1.414],[-1.093,-1.532],[-0.975,-1.638],[-0.85,-1.732],[-0.719,-1.813],[-0.581,-1.879],[-0.44,-1.932],[-0.295,-1.97],[-0.148,-1.992],[0,-2],
[0.148,-1.992],[0.295,-1.97],[0.44,-1.932],[0.581,-1.879],[0.719,-1.813],[0.85,-1.732],[0.975,-1.638],[1.093,-1.532],[1.202,-1.414],[1.302,-1.286],[1.393,-1.147],[1.472,-1.0],[1.541,-0.845],[1.598,-0.684],[1.642,-0.518],[1.674,-0.347],[1.694,-0.174],[1.7,0],[1.694,0.174]
];
const seriesNames = ['Logged data', 'Theoretical max. acc.'];
const xRange = [-2, 2], yRange = [-2.5, 2.5], tickStep = 0.5;

const logged = [].concat(leftCluster, leftLobe, upperBandLeft, innerLeft, centreSpine,
  upperBandRight, innerRight, rightCluster, lowerLeft, lowerCentre, lowerRight);

const FONT = 'Liberation Sans, Arial, Helvetica, sans-serif';
const axisCommon = {
  type: 'value', interval: tickStep,
  axisLine: { show: true, onZero: false, lineStyle: { color: '#262626', width: 1 } },
  axisTick: { show: true, inside: true, length: 7, lineStyle: { color: '#262626' } },
  axisLabel: { color: '#262626', fontSize: 21, fontFamily: FONT, margin: 9 },
  splitLine: { show: true, lineStyle: { color: '#dfdfdf', width: 1 } },
  nameLocation: 'middle',
  nameTextStyle: { color: '#262626', fontSize: 23, fontFamily: FONT }
};
const chart = echarts.init(document.getElementById('c'), null, { renderer: 'canvas' });
chart.setOption({
  animation: false,
  backgroundColor: '#ffffff',
  grid: { left: 90, right: 9, top: 15, bottom: 74, containLabel: false },
  xAxis: Object.assign({}, axisCommon, { min: xRange[0], max: xRange[1], name: 'Lateral acceleration [g]', nameGap: 47 }),
  yAxis: Object.assign({}, axisCommon, { min: yRange[0], max: yRange[1], name: 'Longitudinal acceleration [g]', nameGap: 50 }),
  legend: {
    orient: 'vertical', left: 508, top: 32,
    padding: [8, 11, 6, 7], itemGap: 6, itemWidth: 65, itemHeight: 14,
    backgroundColor: '#ffffff', borderColor: '#262626', borderWidth: 1, borderRadius: 0,
    textStyle: { color: '#000000', fontSize: 19, fontFamily: FONT, lineHeight: 20 },
    data: [
      { name: seriesNames[0], icon: 'path://M0,0M65,14M29.6,7a2.4,2.4 0 1 0 4.8,0a2.4,2.4 0 1 0 -4.8,0z', itemStyle: { color: '#0072BD', borderWidth: 0 } },
      { name: seriesNames[1], icon: 'path://M0,0M65,14M0,5.1L65,5.1L65,8.9L0,8.9Z', itemStyle: { color: '#D95319', borderWidth: 0 } }
    ]
  },
  series: [
    { name: seriesNames[0], type: 'scatter', data: logged, symbol: 'circle', symbolSize: 7.5,
      itemStyle: { color: '#0072BD', opacity: 1 }, silent: true, large: false, progressive: 0 },
    { name: seriesNames[1], type: 'line', data: limitCurve, symbol: 'none', smooth: false,
      lineStyle: { color: '#D95319', width: 3.8, join: 'round', cap: 'round' }, itemStyle: { color: '#D95319' }, silent: true, z: 3 }
  ]
});
</script>
</body>
</html>
